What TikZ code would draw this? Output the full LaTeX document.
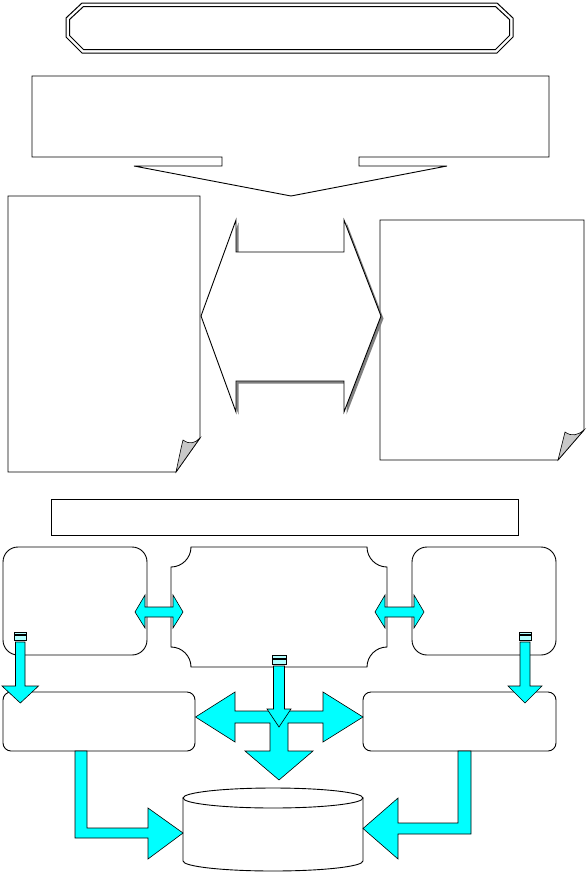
\documentclass[tikz,border=0pt]{standalone}
\usepackage{tikz}
\definecolor{cyanfill}{RGB}{0,255,255}
\definecolor{flapgray}{RGB}{200,200,200}
\definecolor{shadowgray}{RGB}{128,128,128}
\tikzset{
  outline/.style={draw=black, line width=0.9pt, fill=white, line join=miter},
  thinline/.style={draw=black, line width=0.7pt},
  cyanarrow/.style={draw=black, line width=0.6pt, fill=cyanfill, line join=miter},
  flap/.style={draw=black, line width=0.6pt, fill=flapgray},
  shadowshape/.style={fill=shadowgray, draw=none},
  stripebar/.style={draw=black, line width=0.5pt, fill=cyanfill!30}
}
\begin{document}
\begin{tikzpicture}[x=1pt,y=-1pt]
\useasboundingbox (0,0) rectangle (588,873);
\fill[white] (0,0) rectangle (588,873);

% top double-bordered octagon
\draw[thinline, line width=1pt] (82,3) -- (497,3) -- (513,18) -- (513,37) -- (497,53) -- (82,53) -- (66,37) -- (66,18) -- cycle;
\draw[thinline, line width=1pt] (83.5,6.5) -- (495.5,6.5) -- (509.5,19.5) -- (509.5,35.5) -- (495.5,49.5) -- (83.5,49.5) -- (69.5,35.5) -- (69.5,19.5) -- cycle;

% callout rectangle with down arrow
\draw[outline] (32,76) -- (549,76) -- (549,157) -- (359,157) -- (359,166) -- (447,166) -- (291,196) -- (134,166) -- (222,166) -- (222,157) -- (32,157) -- cycle;

% left document with folded corner
\draw[outline] (8,196) -- (200,196) -- (200,438) -- (176,472) -- (8,472) -- cycle;
\draw[flap] (176,472) .. controls (179,458) and (181,448) .. (183,440) .. controls (190,445) and (195,443) .. (200,438) -- cycle;

% right document with folded corner
\draw[outline] (380,220) -- (584,220) -- (584,430) -- (558,460) -- (380,460) -- cycle;
\draw[flap] (558,460) .. controls (561,448) and (563,440) .. (565,432) .. controls (572,437) and (578,435) .. (584,430) -- cycle;

% middle left-right arrow with shadow
\begin{scope}[shift={(2.5,2.5)}]
\fill[shadowshape] (201,316) -- (236,220) -- (236,252) -- (344,252) -- (344,220) -- (381,316) -- (344,412) -- (344,381) -- (236,381) -- (236,412) -- cycle;
\end{scope}
\draw[outline] (201,316) -- (236,220) -- (236,252) -- (344,252) -- (344,220) -- (381,316) -- (344,412) -- (344,381) -- (236,381) -- (236,412) -- cycle;

% wide rectangle
\draw[outline] (51,499) rectangle (518,535);

% upper row boxes
\draw[outline, rounded corners=15pt] (3,547) rectangle (147,655);
\draw[outline, rounded corners=15pt] (412,547) rectangle (556,655);
\draw[outline] (191,547) -- (367,547)
  .. controls (367,558) and (376,567) .. (387,567) -- (387,647)
  .. controls (376,647) and (367,656) .. (367,667) -- (191,667)
  .. controls (191,656) and (182,647) .. (171,647) -- (171,567)
  .. controls (182,567) and (191,558) .. (191,547) -- cycle;

% lower row boxes
\draw[outline, rounded corners=8pt] (3,692) rectangle (195,751);
\draw[outline, rounded corners=8pt] (363,692) rectangle (556,751);

% cylinder
\draw[outline] (183,798) -- (183,861) .. controls (183,866.5) and (223.3,871) .. (273,871) .. controls (322.7,871) and (363,866.5) .. (363,861) -- (363,798) -- cycle;
\draw[outline] (273,798) ellipse [x radius=90, y radius=10];

% small horizontal double arrows
\draw[cyanarrow] (135,612) -- (145,595) -- (145,607) -- (173,607) -- (173,595) -- (183,612) -- (173,628) -- (173,617) -- (145,617) -- (145,628) -- cycle;
\draw[cyanarrow] (375,612) -- (385,595) -- (385,607) -- (414,607) -- (414,595) -- (424,612) -- (414,628) -- (414,617) -- (385,617) -- (385,628) -- cycle;

% left striped down arrow
\draw[stripebar] (14,632) rectangle (26.5,634.5);
\draw[stripebar] (14,635.5) rectangle (26.5,640);
\draw[cyanarrow] (15.5,642) -- (25,642) -- (25,686) -- (38.5,686) -- (20.3,703) -- (2,686) -- (15.5,686) -- cycle;

% right striped down arrow
\draw[stripebar] (519,632) rectangle (531.5,634.5);
\draw[stripebar] (519,635.5) rectangle (531.5,640);
\draw[cyanarrow] (520,642) -- (530,642) -- (530,686) -- (542,686) -- (525,703) -- (508,686) -- (520,686) -- cycle;

% three-way arrow
\draw[cyanarrow] (195.5,717) -- (235,692) -- (235,711) -- (323,711) -- (323,692) -- (363,717) -- (323,742) -- (323,723) -- (288,723) -- (288,751) -- (313,751) -- (279,780) -- (245,751) -- (270,751) -- (270,723) -- (235,723) -- (235,742) -- cycle;

% middle striped down arrow
\draw[stripebar] (272,655.5) rectangle (286,658);
\draw[stripebar] (272,659) rectangle (286,664.5);
\draw[cyanarrow] (273.5,666) -- (284.5,666) -- (284.5,709) -- (291,709) -- (279,727) -- (267,709) -- (273.5,709) -- cycle;

% bent arrows into cylinder
\draw[cyanarrow] (75,751) -- (87,751) -- (87,828) -- (148,828) -- (148,808) -- (183,833) -- (148,859) -- (148,838) -- (75,838) -- cycle;
\draw[cyanarrow] (471,751) -- (458,751) -- (458,823) -- (398,823) -- (398,798) -- (363,828.5) -- (398,859) -- (398,834) -- (471,834) -- cycle;
\end{tikzpicture}
\end{document}
